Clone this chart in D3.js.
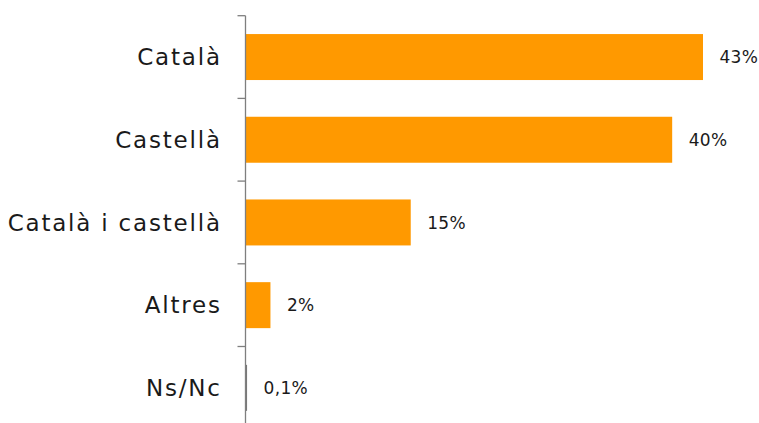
<!DOCTYPE html>
<html>
<head>
<meta charset="utf-8">
<script src="https://cdn.jsdelivr.net/npm/d3@7"></script>
<style>
    body { margin: 0; background: #fff; }
    svg text { font-family: "DejaVu Sans", sans-serif; }
</style>
</head>
<body>
<div id="chart"></div>
<script>
// Datos del gráfico
const categories = ['Català', 'Castellà', 'Català i castellà', 'Altres', 'Ns/Nc'];
const values = [43, 40.1, 15.5, 2.3, 0.1];
const valueLabels = ['43%', '40%', '15%', '2%', '0,1%'];

const width = 759;
const height = 423;

const svg = d3.select('#chart').append('svg')
    .attr('width', width)
    .attr('height', height);

// Escalas
const x = d3.scaleLinear().domain([0, 43]).range([246, 703]);
const y = d3.scaleBand()
    .domain(categories)
    .range([15.7, 15.7 + 82.7 * categories.length])
    .paddingInner(0.444)
    .paddingOuter(0.222);

const data = categories.map((c, i) => ({ cat: c, value: values[i], label: valueLabels[i] }));

// Barras
svg.selectAll('.bar')
    .data(data)
    .enter().append('rect')
    .attr('class', 'bar')
    .attr('x', x(0))
    .attr('y', d => y(d.cat))
    .attr('width', d => Math.max(0.8, x(d.value) - x(0)))
    .attr('height', y.bandwidth())
    .attr('fill', d => d.value < 1 ? '#777' : '#ff9900');

// Eje vertical con marcas entre categorías
const axisX = 245.5;
svg.append('line')
    .attr('x1', axisX).attr('x2', axisX)
    .attr('y1', y.range()[0]).attr('y2', y.range()[1])
    .attr('stroke', '#7f7f7f')
    .attr('stroke-width', 1.3);

const tickPos = categories.map(c => y(c) - y.step() * y.paddingInner() / 2);
svg.selectAll('.tick')
    .data(tickPos)
    .enter().append('line')
    .attr('x1', axisX - 8).attr('x2', axisX)
    .attr('y1', d => d).attr('y2', d => d)
    .attr('stroke', '#7f7f7f')
    .attr('stroke-width', 1.3);

// Etiquetas de categoría
svg.selectAll('.cat')
    .data(data)
    .enter().append('text')
    .attr('x', 221.8)
    .attr('y', d => y(d.cat) + y.bandwidth() / 2)
    .attr('dy', '0.36em')
    .attr('text-anchor', 'end')
    .attr('font-size', '23px')
    .attr('letter-spacing', '1.8px')
    .attr('fill', '#1a1a1a')
    .text(d => d.cat);

// Etiquetas de valor
svg.selectAll('.val')
    .data(data)
    .enter().append('text')
    .attr('x', d => x(d.value) + 16.5)
    .attr('y', d => y(d.cat) + y.bandwidth() / 2)
    .attr('dy', '0.36em')
    .attr('font-size', '17px')
    .attr('letter-spacing', '0.3px')
    .attr('fill', '#1a1a1a')
    .text(d => d.label);
</script>
</body>
</html>
